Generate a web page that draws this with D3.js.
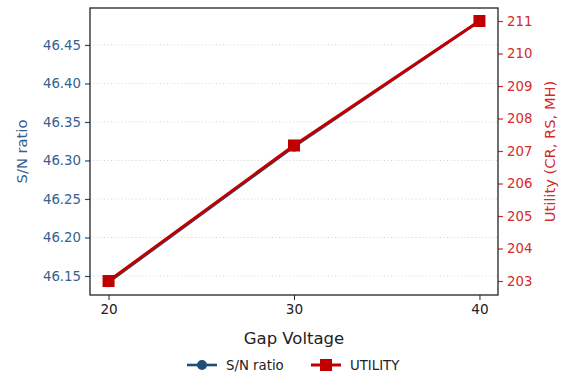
<!DOCTYPE html>
<html>
<head>
<meta charset="utf-8">
<script src="https://cdn.jsdelivr.net/npm/d3@7"></script>
<style>
  body { margin: 0; background: #fff; }
  svg { font-family: "DejaVu Sans", sans-serif; }
</style>
</head>
<body>
<svg width="564" height="379"></svg>
<script>
// chart data
let gapVoltage = [20, 30, 40];
let snRatio = [46.142, 46.318, 46.481];
let utility = [203.0, 207.17, 211.0];
let xTicks = [20, 30, 40];
let snTicks = [46.15, 46.20, 46.25, 46.30, 46.35, 46.40, 46.45];
let utilTicks = [203, 204, 205, 206, 207, 208, 209, 210, 211];
let seriesNames = ["S/N ratio", "UTILITY"];

let blue = "#1f4e79", blueText = "#33628f",
    red = "#c00000", redText = "#d42a2a";

let svg = d3.select("svg"),
    plotLeft = 90, plotRight = 498, plotTop = 8, plotBottom = 295;

let x = d3.scaleLinear().domain([19, 41]).range([plotLeft, plotRight]);
let ySn = d3.scaleLinear().domain([46.1253, 46.498]).range([plotBottom, plotTop]);
let yUt = d3.scaleLinear().domain([202.57, 211.4]).range([plotBottom, plotTop]);

// grid
svg.append("g")
    .selectAll("line")
    .data(snTicks)
    .enter().append("line")
    .attr("x1", plotLeft).attr("x2", plotRight)
    .attr("y1", d => ySn(d)).attr("y2", d => ySn(d))
    .attr("stroke", "#c8c8c8")
    .attr("stroke-width", 0.8)
    .attr("stroke-dasharray", "1,2.5");

// axes
let xAxis = svg.append("g")
    .attr("transform", "translate(0," + plotBottom + ")")
    .call(d3.axisBottom(x).tickValues(xTicks).tickSize(5).tickPadding(4));
xAxis.select(".domain").remove();
xAxis.selectAll("line").attr("stroke", "#222");
xAxis.selectAll("text").attr("font-size", 13.6).attr("fill", "#222").attr("font-family", "DejaVu Sans");

let yLeft = svg.append("g")
    .attr("transform", "translate(" + plotLeft + ",0)")
    .call(d3.axisLeft(ySn).tickValues(snTicks).tickFormat(d3.format(".2f")).tickSize(5).tickPadding(4));
yLeft.select(".domain").remove();
yLeft.selectAll("line").attr("stroke", blue).attr("stroke-width", 1.2);
yLeft.selectAll("text").attr("font-size", 13.3).attr("fill", blueText).attr("font-family", "DejaVu Sans");

let yRight = svg.append("g")
    .attr("transform", "translate(" + plotRight + ",0)")
    .call(d3.axisRight(yUt).tickValues(utilTicks).tickSize(5).tickPadding(4));
yRight.select(".domain").remove();
yRight.selectAll("line").attr("stroke", redText).attr("stroke-width", 1.2);
yRight.selectAll("text").attr("font-size", 13.3).attr("fill", redText).attr("font-family", "DejaVu Sans");

// lines
let snLine = d3.line().x((d, i) => x(gapVoltage[i])).y(d => ySn(d));
let utLine = d3.line().x((d, i) => x(gapVoltage[i])).y(d => yUt(d));

svg.append("path")
    .attr("d", snLine(snRatio))
    .attr("fill", "none")
    .attr("stroke", blue)
    .attr("stroke-width", 2.6);

svg.append("g")
    .selectAll("circle")
    .data(snRatio)
    .enter().append("circle")
    .attr("cx", (d, i) => x(gapVoltage[i]))
    .attr("cy", d => ySn(d))
    .attr("r", 5)
    .attr("fill", blue);

svg.append("path")
    .attr("d", utLine(utility))
    .attr("fill", "none")
    .attr("stroke", red)
    .attr("stroke-width", 3);

svg.append("g")
    .selectAll("rect")
    .data(utility)
    .enter().append("rect")
    .attr("x", (d, i) => x(gapVoltage[i]) - 6)
    .attr("y", d => yUt(d) - 6)
    .attr("width", 12)
    .attr("height", 12)
    .attr("fill", red);

// frame
svg.append("rect")
    .attr("x", plotLeft).attr("y", plotTop)
    .attr("width", plotRight - plotLeft).attr("height", plotBottom - plotTop)
    .attr("fill", "none")
    .attr("stroke", "#222")
    .attr("stroke-width", 1.3);

// labels
svg.append("text")
    .attr("x", (plotLeft + plotRight) / 2)
    .attr("y", 344)
    .attr("text-anchor", "middle")
    .attr("font-size", 16.5)
    .attr("fill", "#222")
    .text("Gap Voltage");

svg.append("text")
    .attr("transform", "translate(27," + (plotTop + plotBottom) / 2 + ") rotate(-90)")
    .attr("text-anchor", "middle")
    .attr("font-size", 14.7)
    .attr("fill", blueText)
    .text("S/N ratio");

svg.append("text")
    .attr("transform", "translate(555," + (plotTop + plotBottom) / 2 + ") rotate(-90)")
    .attr("text-anchor", "middle")
    .attr("font-size", 14.7)
    .attr("fill", redText)
    .text("Utility (CR, RS, MH)");

// legend
let legend = svg.append("g")
    .selectAll("g")
    .data(seriesNames)
    .enter().append("g")
    .attr("transform", (d, i) => "translate(" + (187 + i * 124) + ",365)");

legend.append("line")
    .attr("x1", 0).attr("x2", 30)
    .attr("stroke", (d, i) => i === 0 ? blue : red)
    .attr("stroke-width", (d, i) => i === 0 ? 2.6 : 3);

legend.filter((d, i) => i === 0).append("circle")
    .attr("cx", 15).attr("r", 5).attr("fill", blue);

legend.filter((d, i) => i === 1).append("rect")
    .attr("x", 9).attr("y", -6).attr("width", 12).attr("height", 12).attr("fill", red);

legend.append("text")
    .attr("x", 39)
    .attr("dy", "0.35em")
    .attr("font-size", 13.3)
    .attr("fill", "#222")
    .text(d => d);
</script>
</body>
</html>
